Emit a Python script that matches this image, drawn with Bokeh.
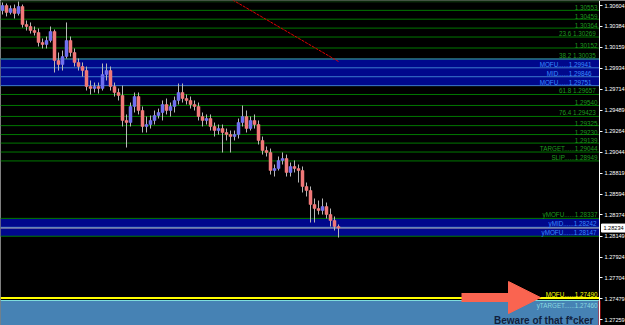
import glob
import os
from bokeh.plotting import figure
from bokeh.models import Range1d, FixedTicker, PrintfTickFormatter, Arrow, NormalHead, LinearAxis
from bokeh.core.properties import value
from bokeh.embed import file_html
from bokeh.resources import INLINE

# ---------------- data ----------------
opens = [1.30551, 1.30605, 1.30530, 1.30573, 1.30520, 1.30594, 1.30402, 1.30381, 1.30338, 1.30317,
         1.30211, 1.30189, 1.30232, 1.30328, 1.30019, 1.29976, 1.30061, 1.30232, 1.30104, 1.29998,
         1.29955, 1.29912, 1.29742, 1.29721, 1.29742, 1.29721, 1.29870, 1.29912, 1.29742, 1.29678,
         1.29646, 1.29380, 1.29358, 1.29529, 1.29635, 1.29486, 1.29316, 1.29337, 1.29380, 1.29433,
         1.29465, 1.29550, 1.29486, 1.29529, 1.29593, 1.29678, 1.29614, 1.29593, 1.29550, 1.29529,
         1.29422, 1.29380, 1.29401, 1.29316, 1.29273, 1.29294, 1.29252, 1.29230, 1.29209, 1.29230,
         1.29358, 1.29422, 1.29294, 1.29380, 1.29337, 1.29167, 1.29060, 1.29039, 1.28847, 1.28868,
         1.28954, 1.28975, 1.28826, 1.28890, 1.28868, 1.28847, 1.28677, 1.28634, 1.28485, 1.28442,
         1.28421, 1.28463, 1.28378, 1.28314, 1.28250]
highs = [1.30637, 1.30626, 1.30605, 1.30615, 1.30647, 1.30615, 1.30445, 1.30424, 1.30381, 1.30360,
         1.30253, 1.30274, 1.30381, 1.30349, 1.30104, 1.30125, 1.30424, 1.30274, 1.30147, 1.30040,
         1.29998, 1.29955, 1.29806, 1.29784, 1.29784, 1.29987, 1.29987, 1.29955, 1.29784, 1.29721,
         1.29752, 1.29444, 1.29571, 1.29678, 1.29678, 1.29529, 1.29422, 1.29433, 1.29486, 1.29507,
         1.29593, 1.29614, 1.29571, 1.29635, 1.29774, 1.29774, 1.29657, 1.29635, 1.29593, 1.29571,
         1.29465, 1.29444, 1.29444, 1.29358, 1.29337, 1.29337, 1.29294, 1.29273, 1.29273, 1.29401,
         1.29539, 1.29486, 1.29422, 1.29444, 1.29380, 1.29209, 1.29103, 1.29081, 1.28911, 1.28996,
         1.29039, 1.29017, 1.28932, 1.28954, 1.28911, 1.28890, 1.28719, 1.28677, 1.28549, 1.28527,
         1.28549, 1.28506, 1.28442, 1.28357, 1.28272]
lows = [1.30509, 1.30488, 1.30509, 1.30466, 1.30498, 1.30370, 1.30338, 1.30306, 1.30285, 1.30168,
        1.30147, 1.30147, 1.30211, 1.29891, 1.29912, 1.29912, 1.30040, 1.30061, 1.29955, 1.29912,
        1.29848, 1.29699, 1.29657, 1.29678, 1.29667, 1.29699, 1.29806, 1.29699, 1.29635, 1.29593,
        1.29316, 1.29092, 1.29316, 1.29465, 1.29444, 1.29252, 1.29252, 1.29294, 1.29337, 1.29401,
        1.29380, 1.29444, 1.29422, 1.29465, 1.29550, 1.29571, 1.29550, 1.29507, 1.29486, 1.29380,
        1.29316, 1.29337, 1.29273, 1.29209, 1.29230, 1.29039, 1.29167, 1.29039, 1.29167, 1.29188,
        1.29316, 1.29252, 1.29273, 1.29294, 1.29124, 1.29017, 1.28996, 1.28804, 1.28783, 1.28847,
        1.28911, 1.28783, 1.28783, 1.28826, 1.28719, 1.28613, 1.28570, 1.28293, 1.28293, 1.28378,
        1.28378, 1.28336, 1.28250, 1.28208, 1.28133]
closes = [1.30605, 1.30530, 1.30573, 1.30520, 1.30594, 1.30402, 1.30381, 1.30338, 1.30317, 1.30211,
          1.30189, 1.30232, 1.30328, 1.30019, 1.29976, 1.30061, 1.30232, 1.30104, 1.29998, 1.29955,
          1.29912, 1.29742, 1.29721, 1.29742, 1.29721, 1.29870, 1.29912, 1.29742, 1.29678, 1.29646,
          1.29380, 1.29358, 1.29529, 1.29635, 1.29486, 1.29316, 1.29337, 1.29380, 1.29433, 1.29465,
          1.29550, 1.29486, 1.29529, 1.29593, 1.29678, 1.29614, 1.29593, 1.29550, 1.29529, 1.29422,
          1.29380, 1.29401, 1.29316, 1.29273, 1.29294, 1.29252, 1.29230, 1.29209, 1.29230, 1.29358,
          1.29422, 1.29294, 1.29380, 1.29337, 1.29167, 1.29060, 1.29039, 1.28847, 1.28868, 1.28954,
          1.28975, 1.28826, 1.28890, 1.28868, 1.28847, 1.28677, 1.28634, 1.28485, 1.28442, 1.28421,
          1.28463, 1.28378, 1.28314, 1.28250, 1.28234]
bar_index = list(range(len(opens)))

axis_ticks = [1.30604, 1.30384, 1.30159, 1.29934, 1.29714, 1.29489, 1.29264, 1.29044,
              1.28819, 1.28594, 1.28374, 1.28149, 1.27924, 1.27704, 1.27479, 1.27259]

green_levels = [1.30553, 1.30459, 1.30364, 1.30269, 1.30152, 1.30035, 1.29657, 1.29540,
                1.29423, 1.29325, 1.29230, 1.29139, 1.29044, 1.28949, 1.28337, 1.28147]
green_labels = ["1.30553", "1.30459", "1.30364", "23.6  1.30269", "1.30152", "38.2  1.30035",
                "61.8  1.29657", "1.29540", "76.4  1.29423", "1.29325", "1.29230", "1.29139",
                "TARGET......1.29044", "SLIP......1.28949", "yMOFU......1.28337", ""]

band_top = [1.30035, 1.28337]
band_bottom = [1.29751, 1.28147]
band_lines = [1.30035, 1.29941, 1.29846, 1.29751, 1.28242]
upper_band_levels = [1.29941, 1.29846, 1.29751]
upper_band_labels = ["MOFU......1.29941", "MID......1.29846", "MOFU......1.29751"]
lower_band_levels = [1.28242, 1.28147]
lower_band_labels = ["yMID......1.28242", "yMOFU......1.28147"]

yellow_level = [1.27490]
yellow_label = ["MOFU......1.27490"]
cyan_level = [1.27462]
cyan_label = ["yTARGET......1.27460"]
zone_top = [1.27462]
zone_bottom = [1.26900]

top_strip = [1.30637, 1.30700]
bid_price = 1.28234

trend_x = [57.5, 84.0]
trend_y = [1.30665, 1.30008]

note_text = "Beware of that f*cker"


# ---------------- fonts ----------------
def has_font(pattern):
    roots = ["/usr/share/fonts", "/usr/local/share/fonts",
             os.path.expanduser("~/.fonts"), os.path.expanduser("~/.local/share/fonts")]
    for root in roots:
        if os.path.isdir(root) and glob.glob(os.path.join(root, "**", pattern), recursive=True):
            return True
    return False


if has_font("LiberationSansNarrow-Regular*"):
    AXIS_FONT, AXIS_SIZE = "Liberation Sans Narrow", "7px"
else:
    AXIS_FONT, AXIS_SIZE = "Liberation Sans", "5.6px"
FONT = value("Liberation Sans")

# ---------------- figure ----------------
X_START = -0.5          # left edge of the chart area
X_EDGE = 149.25         # right edge of the chart area (price scale line)
X_TAG = 152.75          # centre of the bid-price tag on the price scale
p = figure(width=625, height=325, output_backend="svg", toolbar_location=None,
           x_axis_location=None, y_axis_location=None,
           x_range=Range1d(-0.5, 155.75), y_range=Range1d(1.27196, 1.30658),
           background_fill_color="black", border_fill_color="black", min_border=0)
p.outline_line_color = None
p.grid.visible = False


def hlines(levels, **kw):
    n = len(levels)
    p.segment(x0=[X_START] * n, x1=[X_EDGE] * n, y0=levels, y1=levels, **kw)


# background strips / zones
p.quad(left=[X_START], right=[X_EDGE], bottom=[top_strip[0]], top=[top_strip[1]],
       fill_color="#0a280a", line_color=None)
p.quad(left=[X_START] * 2, right=[X_EDGE] * 2, bottom=band_bottom, top=band_top,
       fill_color="#00088c", line_color=None)
p.quad(left=[X_START], right=[X_EDGE], bottom=zone_bottom, top=zone_top,
       fill_color="#4682b4", line_color=None)

# level lines
hlines(green_levels, line_color="#007800", line_width=1)
hlines(band_lines, line_color="#3c7ccc", line_width=1)
hlines(yellow_level, line_color="#ffff00", line_width=2)
hlines(cyan_level, line_color="#80e0e0", line_width=1)
hlines([bid_price], line_color="#b0b0b0", line_width=1)

# trend line
p.line(trend_x, trend_y, line_color="#e00000", line_width=1, line_dash="3 1")

# candles
body_top = [max(o, c) for o, c in zip(opens, closes)]
body_bot = [min(o, c) for o, c in zip(opens, closes)]
body_col = ["#7070f0" if c >= o else "#f07878" for o, c in zip(opens, closes)]
p.segment(x0=bar_index, y0=lows, x1=bar_index, y1=highs, line_color="#b8b8b8", line_width=1)
p.vbar(x=bar_index, width=0.75, top=body_top, bottom=body_bot, fill_color=body_col,
       line_color=body_col, line_width=0.5)

# level labels
p.text(x=[X_EDGE] * len(green_levels), y=green_levels, text=green_labels, text_align="right",
       text_baseline="bottom", text_color="#1e9a1e", text_font=FONT, text_font_size="6.3px",
       x_offset=-2)
p.text(x=[X_EDGE] * 3, y=upper_band_levels, text=upper_band_labels, text_align="right",
       text_baseline="bottom", text_color="#3a8cff", text_font=FONT, text_font_size="6.3px",
       x_offset=-8)
p.text(x=[X_EDGE] * 2, y=lower_band_levels, text=lower_band_labels, text_align="right",
       text_baseline="bottom", text_color="#3a8cff", text_font=FONT, text_font_size="6.3px",
       x_offset=-3)
p.text(x=[X_EDGE], y=yellow_level, text=yellow_label, text_align="right",
       text_baseline="bottom", text_color="#ffff00", text_font=FONT, text_font_size="6.3px",
       x_offset=-2)
p.text(x=[X_EDGE], y=cyan_level, text=cyan_label, text_align="right",
       text_baseline="top", text_color="#8ad8e0", text_font=FONT, text_font_size="6.3px",
       x_offset=-2, y_offset=1)

# zone edge on the right
p.segment(x0=[X_EDGE], x1=[X_EDGE], y0=zone_bottom, y1=zone_top, line_color="#e01010", line_width=2)

# arrow and note
arrow_col = "#fa6450"
p.add_layout(Arrow(end=NormalHead(size=32, fill_color=arrow_col, line_color=arrow_col, line_width=1),
                   x_start=114.75, y_start=1.27494, x_end=134.5, y_end=1.27494,
                   line_color=arrow_col, line_width=9))
p.text(x=[X_EDGE], y=[1.27249], text=[note_text], text_align="right", text_baseline="alphabetic",
       text_color="#0f1e3c", text_font=FONT, text_font_size="10px", text_font_style="bold",
       x_offset=-6)

# price scale on the right (drawn at the chart's right edge)
ax = LinearAxis(fixed_location=X_EDGE, ticker=FixedTicker(ticks=axis_ticks),
                formatter=PrintfTickFormatter(format="%.5f"))
ax.axis_line_color = "white"
ax.major_tick_line_color = "white"
ax.major_tick_in = 0
ax.major_tick_out = 3
ax.minor_tick_line_color = None
ax.major_label_text_color = "white"
ax.major_label_text_font = AXIS_FONT
ax.major_label_text_font_size = AXIS_SIZE
ax.major_label_standoff = 2
p.add_layout(ax, "right")

# current price tag on the price scale
p.rect(x=[X_TAG], y=[bid_price], width=24, height=8, width_units="screen", height_units="screen",
       fill_color="white", line_color="white")
p.text(x=[X_TAG], y=[bid_price], text=["%.5f" % bid_price], text_align="center",
       text_baseline="middle", text_color="black", text_font=value(AXIS_FONT),
       text_font_size=AXIS_SIZE)

open("out.html", "w").write(file_html(p, INLINE))
